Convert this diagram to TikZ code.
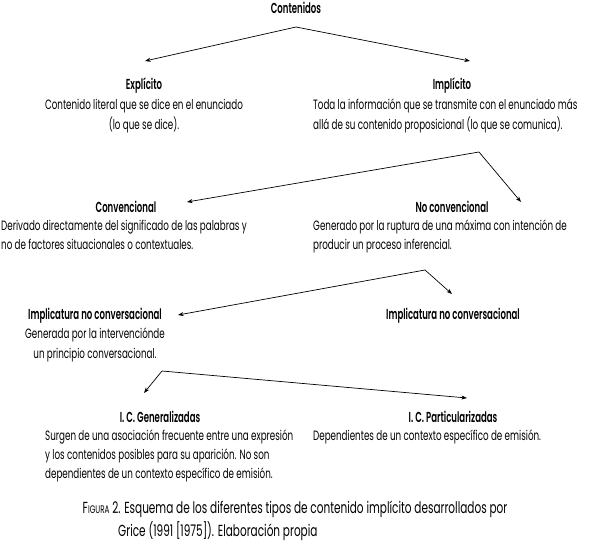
\documentclass[tikz,border=0pt]{standalone}
\usepackage{fontspec}
\setmainfont{Poppins}
\newfontfamily\bodyfam{Poppins}[FakeStretch=0.648]
\newfontfamily\headfam{Poppins}[UprightFont={* SemiBold},FakeStretch=0.59]
\newfontfamily\capfam{Poppins}[FakeStretch=0.656]
\usetikzlibrary{arrows.meta}
\begin{document}
\begin{tikzpicture}[x=1pt,y=-1pt,
  hd/.style={anchor=base,inner sep=0pt,font=\headfam\fontsize{14.5}{15}\selectfont},
  bd/.style={anchor=base,inner sep=0pt,font=\bodyfam\fontsize{13.5}{15}\selectfont},
  bdl/.style={bd,anchor=base west},
  captext/.style={anchor=base west,inner sep=0pt,font=\capfam\fontsize{16}{17}\selectfont},
  arr/.style={-{Stealth[length=5.5pt,width=4pt,inset=1.5pt]},line width=0.7pt}]
\useasboundingbox (0,0) rectangle (590,549);
% headers
\node[hd] (cont) at (296,13) {Contenidos};
\node[hd] (expl) at (144,89) {Explícito};
\node[hd] (impl) at (452,89) {Implícito};
\node[hd] (conv) at (126,212) {Convencional};
\node[hd] (noconv) at (452,212) {No convencional};
\node[hd] (implL) at (95,319) {Implicatura no conversacional};
\node[hd] (implR) at (453,319) {Implicatura no conversacional};
\node[hd] (gen) at (160,422) {I. C. Generalizadas};
\node[hd] (part) at (453,422) {I. C. Particularizadas};
% body texts
\node[bd] (ex1) at (144,109) {Contenido literal que se dice en el enunciado};
\node[bd] (ex2) at (144,129) {(lo que se dice).};
\node[bdl] (im1) at (313,109) {Toda la información que se transmite con el enunciado más};
\node[bdl] (im2) at (313,129) {allá de su contenido proposicional (lo que se comunica).};
\node[bdl] (cv1) at (1,230) {Derivado directamente del significado de las palabras y};
\node[bdl] (cv2) at (1,249) {no de factores situacionales o contextuales.};
\node[bdl] (nc1) at (313,230) {Generado por la ruptura de una máxima con intención de};
\node[bdl] (nc2) at (313,249) {producir un proceso inferencial.};
\node[bd] (il1) at (95,338) {Generada por la intervenciónde};
\node[bd] (il2) at (95,358) {un principio conversacional.};
\node[bdl] (g1) at (45,440) {Surgen de una asociación frecuente entre una expresión};
\node[bdl] (g2) at (45,459) {y los contenidos posibles para su aparición. No son};
\node[bdl] (g3) at (45,478) {dependientes de un contexto específico de emisión.};
\node[bdl] (p1) at (313,440) {Dependientes de un contexto específico de emisión.};
% caption
\node[captext,anchor=base] (cap1) at (295,513) {F{\fontsize{11}{12}\selectfont IGURA} 2. Esquema de los diferentes tipos de contenido implícito desarrollados por};
\node[captext] (cap2) at (118,536) {Grice (1991 [1975]). Elaboración propia};
% connector points
\coordinate (a1) at (296,27);
\coordinate (t1l) at (145,61);
\coordinate (t1r) at (470,61);
\coordinate (a2) at (479,152);
\coordinate (t2l) at (187,202);
\coordinate (t2r) at (521,202);
\coordinate (a3) at (425,270);
\coordinate (t3l) at (178,315);
\coordinate (t3r) at (452,294);
\coordinate (a4) at (162,371);
\coordinate (t4l) at (144,393);
\coordinate (t4r) at (467,398);
\draw[arr] (a1) -- (t1l);
\draw[arr] (a1) -- (t1r);
\draw[arr] (a2) -- (t2l);
\draw[arr] (a2) -- (t2r);
\draw[arr] (a3) -- (t3l);
\draw[arr] (a3) -- (t3r);
\draw[arr] (a4) -- (t4l);
\draw[arr] (a4) -- (t4r);
\end{tikzpicture}
\end{document}
